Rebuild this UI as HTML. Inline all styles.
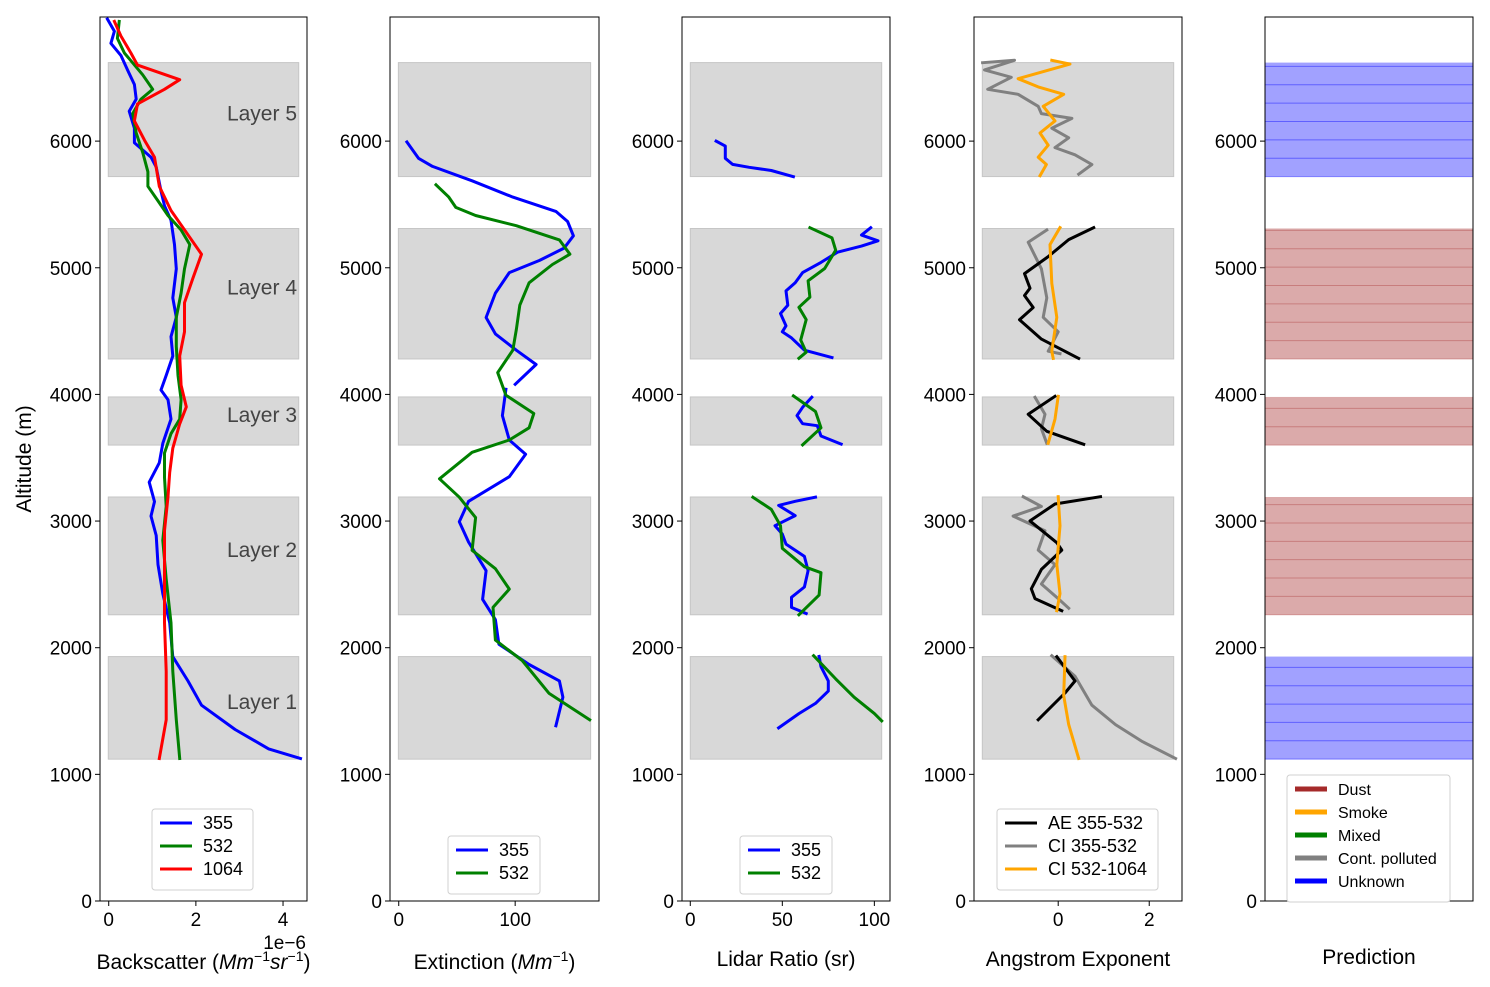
<!DOCTYPE html>
<html><head><meta charset="utf-8"><style>
body{margin:0;background:#fff;}
svg{display:block;font-family:"Liberation Sans","DejaVu Sans",sans-serif;}
</style></head><body>
<svg id="fig" width="1490" height="987" xmlns="http://www.w3.org/2000/svg"></svg>
<script>
// ---------- data ----------
const layerBottoms=[1120,2260,3600,4280,5720];
const layerTops=[1930,3190,3980,5310,6620];
const layerNames=["Layer 1","Layer 2","Layer 3","Layer 4","Layer 5"];
const yTicks=[0,1000,2000,3000,4000,5000,6000];

const bsc355Alt=[6964,6868,6772,6677,6562,6447,6332,6236,6102,5987,5873,5796,5605,5490,5375,5183,4992,4762,4609,4456,4303,4150,4035,3958,3805,3613,3460,3307,3154,3039,2886,2656,2427,2197,1929,1737,1546,1354,1201,1125];
const bsc355Val=[-0.03,0.13,0.05,0.28,0.43,0.59,0.63,0.47,0.59,0.59,0.97,1.09,1.2,1.28,1.43,1.51,1.55,1.47,1.55,1.43,1.47,1.32,1.2,1.36,1.43,1.24,1.16,0.93,1.05,0.97,1.09,1.13,1.24,1.4,1.47,1.82,2.13,2.9,3.67,4.4];
const bsc532Alt=[6945,6811,6696,6524,6409,6332,6217,6064,5911,5758,5643,5528,5413,5298,5183,4992,4800,4609,4379,4150,3958,3805,3690,3537,3345,3116,2848,2541,2197,1814,1431,1125];
const bsc532Val=[0.24,0.2,0.36,0.78,1.01,0.74,0.55,0.63,0.78,0.9,0.9,1.13,1.36,1.66,1.86,1.74,1.66,1.55,1.55,1.59,1.66,1.63,1.43,1.28,1.28,1.32,1.24,1.32,1.43,1.47,1.55,1.63];
const bsc1064Alt=[6945,6830,6696,6600,6485,6409,6294,6160,6007,5873,5643,5452,5260,5107,4915,4724,4494,4303,4073,3901,3767,3575,3384,3192,2924,2580,2197,1814,1431,1125];
const bsc1064Val=[0.13,0.28,0.51,0.66,1.63,1.28,0.66,0.59,0.82,1.05,1.16,1.43,1.82,2.13,1.93,1.74,1.74,1.63,1.66,1.78,1.63,1.47,1.4,1.36,1.28,1.28,1.28,1.32,1.32,1.16];

const ext355Alt=[5993,5864,5800,5687,5558,5445,5365,5252,5155,5058,4962,4800,4607,4478,4349,4236,4080,null,4040,3833,3640,3527,3350,3156,2995,2834,2608,2382,2221,2028,1867,1738,1609,1383];
const ext355Val=[7,17,29,63,98,135,145,150,142,121,95,83,75,83,101,118,100,null,92,89,95,109,95,60,52,60,75,72,83,86,112,138,141,135];
const ext532Alt=[5655,5558,5477,5413,5332,5220,5107,5026,4881,4704,4510,4349,4172,3994,3849,3736,3640,3543,3334,3188,3027,2769,2624,2463,2318,2060,1899,1641,1431];
const ext532Val=[32,43,49,66,101,138,147,132,112,104,101,98,85,92,116,112,95,63,35,52,66,63,83,95,81,83,106,129,164];

const lr355Alt=[6000,5961,5864,5816,5793,5768,5719,null,5316,5258,5213,5171,5123,5042,4962,4881,4817,4704,4639,4542,4494,4446,4349,4291,null,3978,3898,3833,3769,3753,3672,3608,null,3188,3156,3124,3043,2963,2898,2818,2721,2608,2479,2398,2318,2270,null,1931,1850,1738,1657,1560,1480,1367];
const lr355Val=[14,19,19,23,32,44,56,null,98,93,102,93,80,71,61,57,52,53,49,52,50,55,62,77,null,66,61,58,61,69,71,82,null,68,57,48,57,46,50,52,62,64,62,55,55,63,null,70,71,75,75,68,59,48];
const lr532Alt=[5316,5236,5139,4994,4897,4768,4688,4591,4430,4333,4285,null,3988,3865,3736,3601,null,3188,3092,2963,2785,2640,2592,2415,2260,null,1937,1754,1609,1480,1422];
const lr532Val=[65,77,79,73,64,65,59,63,60,63,59,null,56,68,71,61,null,34,44,49,50,62,71,70,59,null,67,79,89,100,104];

const ae355Alt=[5317,5222,5088,4954,4839,4781,4686,4590,4437,4284,null,3985,3843,3709,3606,null,3192,3135,3001,2829,2771,2618,2465,2388,2292,null,1929,1737,1642,1431];
const ae355Val=[0.78,0.23,-0.22,-0.74,-0.62,-0.74,-0.55,-0.85,-0.37,0.45,null,-0.07,-0.66,-0.25,0.56,null,0.93,-0.07,-0.62,-0.03,0.08,-0.37,-0.59,-0.51,0.08,null,-0.03,0.37,0.15,-0.44];
const ci355Alt=[6619,6638,6562,6504,6409,6370,6275,6217,6179,6102,6026,5949,5892,5815,5739,null,5298,5202,4992,4762,4609,4494,4341,4322,null,3977,3843,3729,3614,null,3192,3116,3039,2924,2771,2656,2503,2388,2312,null,1936,1775,1546,1393,1259,1125];
const ci355Val=[-1.66,-0.96,-1.62,-1.03,-1.55,-0.88,-0.44,-0.37,0.3,-0.14,0.23,-0.07,0.37,0.74,0.45,null,-0.25,-0.66,-0.37,-0.25,-0.33,0.0,-0.22,0.04,null,-0.51,-0.29,-0.37,-0.25,null,-0.77,-0.37,-0.99,-0.29,-0.44,-0.07,-0.37,0.0,0.23,null,-0.14,0.37,0.74,1.26,1.85,2.58];
const ci532Alt=[6638,6608,6493,6428,6370,6275,6160,6064,5968,5873,5815,5727,null,5317,5183,4877,4609,4341,4284,null,3985,3805,3614,null,3192,2963,2656,2427,2292,null,1929,1622,1393,1125];
const ci532Val=[-0.14,0.26,-0.88,-0.44,0.12,-0.33,-0.07,-0.4,-0.22,-0.44,-0.26,-0.4,null,0.04,-0.18,-0.14,-0.03,-0.14,-0.11,null,0.0,-0.07,-0.22,null,0.0,0.04,-0.03,0.04,-0.03,null,0.15,0.12,0.23,0.45];

const predClass=["Unknown","Dust","Dust","Dust","Unknown"];

// ---------- helpers ----------
const NS="http://www.w3.org/2000/svg";
const svg=document.getElementById('fig');
function mk(tag,attrs,parent){const e=document.createElementNS(NS,tag);for(const k in attrs)e.setAttribute(k,attrs[k]);(parent||svg).appendChild(e);return e;}
const TOP=17,BOT=901,YMAX=6980;
const TICKFS=19,LABFS=21,LEGFS=18;
function yS(a){return BOT-(a/YMAX)*(BOT-TOP);}
const panels=[
 {x0:100,x1:307,xmin:-0.2,xmax:4.55,xt:[0,2,4]},
 {x0:390,x1:599,xmin:-7.5,xmax:172,xt:[0,100]},
 {x0:682,x1:890,xmin:-4.5,xmax:108.5,xt:[0,50,100]},
 {x0:974,x1:1182,xmin:-1.85,xmax:2.72,xt:[0,2]},
 {x0:1265,x1:1473,xmin:0,xmax:1,xt:[]}
];
function xS(p,v){return p.x0+(v-p.xmin)/(p.xmax-p.xmin)*(p.x1-p.x0);}

function drawAxesFrame(p,i){
  const g=mk('g',{});
  
  
  return g;
}
function frame(p,g,i){
  const r=mk('rect',{x:p.x0,y:TOP,width:p.x1-p.x0,height:BOT-TOP,fill:'none',stroke:'#000','stroke-width':1},g);
  
  
  yTicks.forEach(t=>{
    const y=yS(t);
    mk('line',{x1:p.x0-5,x2:p.x0,y1:y,y2:y,stroke:'#000','stroke-width':1},g);
    const tx=mk('text',{x:p.x0-8,y:y+7,'text-anchor':'end','font-size':TICKFS},g);
    tx.textContent=t;
    
    
  });
  p.xt.forEach(t=>{
    const x=xS(p,t);
    mk('line',{x1:x,x2:x,y1:BOT,y2:BOT+5,stroke:'#000','stroke-width':1},g);
    const tx=mk('text',{x:x,y:BOT+25,'text-anchor':'middle','font-size':TICKFS},g);
    tx.textContent=t;
    
    
  });
}
function spans(p,g){
  for(let k=0;k<layerBottoms.length;k++){
    const x0=p.x0+0.04*(p.x1-p.x0),x1=p.x0+0.96*(p.x1-p.x0);
    const r=mk('rect',{x:x0,y:yS(layerTops[k]),width:x1-x0,height:yS(layerBottoms[k])-yS(layerTops[k]),fill:'#d8d8d8',stroke:'#c6c6c6','stroke-width':1},g);
    
    
  }
}
function series(p,g,alts,vals,color,name){
  let d='',pen=false;
  for(let i=0;i<alts.length;i++){
    if(alts[i]===null){pen=false;continue;}
    d+=(pen?'L':'M')+xS(p,vals[i]).toFixed(1)+' '+yS(alts[i]).toFixed(1)+' ';
    pen=true;
  }
  const path=mk('path',{d:d,fill:'none',stroke:color,'stroke-width':3,'stroke-linejoin':'round','stroke-linecap':'square'},g);
  
  
}
function legend(x,y,w,entries,g,lw){
  const h=entries.length*23+12;
  const box=mk('rect',{x:x,y:y,width:w,height:h,rx:3,fill:'#fff',stroke:'#d0d0d0','stroke-width':1},g);
  
  
  entries.forEach((e,i)=>{
    const yy=y+14+i*23;
    const ln=mk('line',{x1:x+8,x2:x+40,y1:yy,y2:yy,stroke:e[1],'stroke-width':lw||3},g);
    
    
    const t=mk('text',{x:x+51,y:yy+6,'font-size':(lw?16:LEGFS)},g);
    t.textContent=e[0];
    
    
  });
}
function xlabel(p,g,html,y){
  const t=mk('text',{x:(p.x0+p.x1)/2,y:y,'text-anchor':'middle','font-size':LABFS},g);
  t.innerHTML=html;
  
  
}

// Panel 1
let g=drawAxesFrame(panels[0],0);spans(panels[0],g);
layerNames.forEach((n,k)=>{
  const mid=(layerBottoms[k]+layerTops[k])/2;
  const t=mk('text',{x:297,y:yS(mid)+1,'text-anchor':'end','font-size':21,fill:'#444'},g);
  t.textContent=n;
  
  
});
series(panels[0],g,bsc355Alt,bsc355Val,'#0000ff','bsc-355-line');
series(panels[0],g,bsc532Alt,bsc532Val,'#008000','bsc-532-line');
series(panels[0],g,bsc1064Alt,bsc1064Val,'#ff0000','bsc-1064-line');
frame(panels[0],g,0);
legend(152,809,101,[["355","#0000ff"],["532","#008000"],["1064","#ff0000"]],g);
{const t=mk('text',{x:306,y:949,'text-anchor':'end','font-size':TICKFS},g);t.textContent='1e\u22126';
}
xlabel(panels[0],g,'Backscatter (<tspan font-style="italic">Mm</tspan><tspan font-size="14" dy="-8">\u22121</tspan><tspan font-style="italic" dy="8">sr</tspan><tspan font-size="14" dy="-8">\u22121</tspan><tspan dy="8">)</tspan>',969);
{const t=mk('text',{x:31,y:459,'text-anchor':'middle','font-size':LABFS,transform:'rotate(-90 31 459)'},g);t.textContent='Altitude (m)';
}

// Panel 2
g=drawAxesFrame(panels[1],1);spans(panels[1],g);
series(panels[1],g,ext355Alt,ext355Val,'#0000ff','ext-355-line');
series(panels[1],g,ext532Alt,ext532Val,'#008000','ext-532-line');
frame(panels[1],g,1);
legend(448,836,92,[["355","#0000ff"],["532","#008000"]],g);
xlabel(panels[1],g,'Extinction (<tspan font-style="italic">Mm</tspan><tspan font-size="14" dy="-8">\u22121</tspan><tspan dy="8">)</tspan>',969);

// Panel 3
g=drawAxesFrame(panels[2],2);spans(panels[2],g);
series(panels[2],g,lr355Alt,lr355Val,'#0000ff','lr-355-line');
series(panels[2],g,lr532Alt,lr532Val,'#008000','lr-532-line');
frame(panels[2],g,2);
legend(740,836,92,[["355","#0000ff"],["532","#008000"]],g);
xlabel(panels[2],g,'Lidar Ratio (sr)',966);

// Panel 4
g=drawAxesFrame(panels[3],3);spans(panels[3],g);
series(panels[3],g,ci355Alt,ci355Val,'#808080','ci-355-532-line');
series(panels[3],g,ae355Alt,ae355Val,'#000000','ae-355-532-line');
series(panels[3],g,ci532Alt,ci532Val,'#ffa500','ci-532-1064-line');
frame(panels[3],g,3);
legend(997,809,161,[["AE 355-532","#000000"],["CI 355-532","#808080"],["CI 532-1064","#ffa500"]],g);
xlabel(panels[3],g,'Angstrom Exponent',966);

// Panel 5
g=drawAxesFrame(panels[4],4);
const classColor={Dust:'rgba(165,42,42,0.4)',Unknown:'rgba(0,0,255,0.37)'};
const classEdge={Dust:'rgba(165,42,42,0.35)',Unknown:'rgba(0,0,255,0.4)'};
for(let k=0;k<layerBottoms.length;k++){
  const p=panels[4];
  const r=mk('rect',{x:p.x0,y:yS(layerTops[k]),width:p.x1-p.x0,height:yS(layerBottoms[k])-yS(layerTops[k]),fill:classColor[predClass[k]]},g);
  
  
  for(let a=layerBottoms[k];a<=layerTops[k]+1;a+=145){
    const ln=mk('line',{x1:p.x0,x2:p.x1,y1:yS(a),y2:yS(a),stroke:classEdge[predClass[k]],'stroke-width':1},g);
    
    
  }
}
frame(panels[4],g,4);
legend(1287,775,163,[["Dust","#a52a2a"],["Smoke","#ffa500"],["Mixed","#008000"],["Cont. polluted","#808080"],["Unknown","#0000ff"]],g,5);
xlabel(panels[4],g,'Prediction',964);
</script>
</body></html>
